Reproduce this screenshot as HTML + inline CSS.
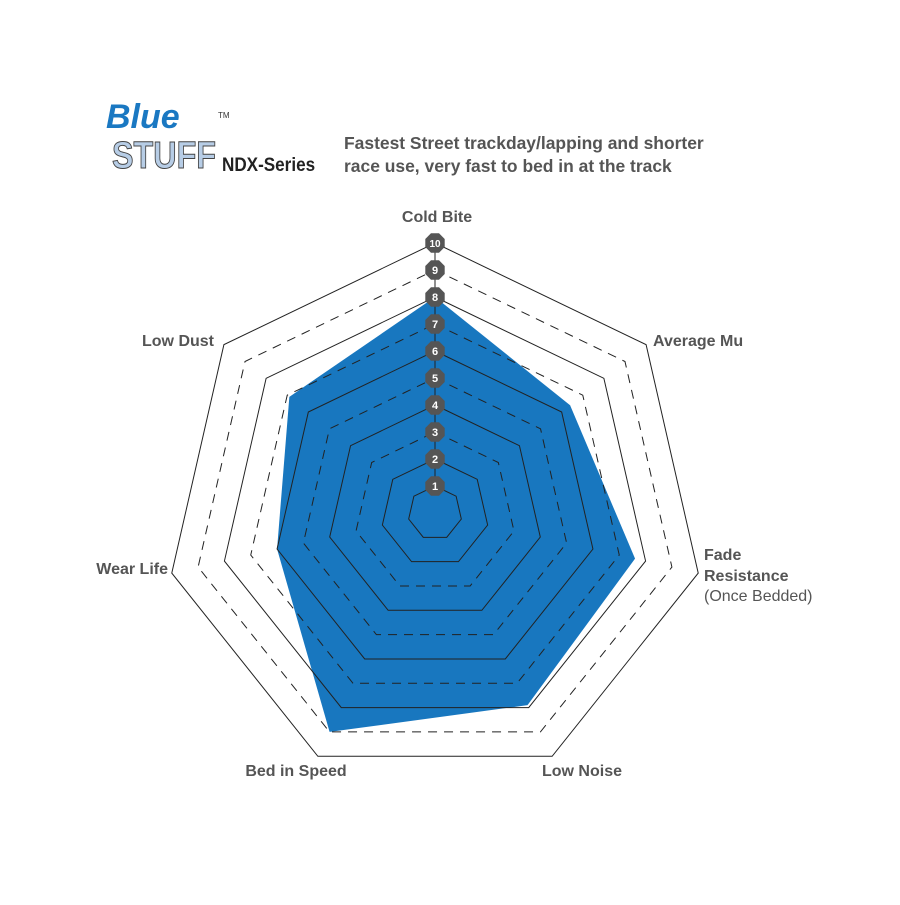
<!DOCTYPE html>
<html><head><style>body{margin:0;background:#fff}</style></head><body>
<svg width="900" height="900" xmlns="http://www.w3.org/2000/svg" font-family="Liberation Sans, sans-serif">
<rect width="900" height="900" fill="#fff"/>
<text x="106" y="128" font-size="34" font-weight="bold" font-style="italic" fill="#1a78c2">Blue</text>
<text x="0" y="168" font-size="38" font-weight="bold" fill="#b7cde6" stroke="#444" stroke-width="1" transform="translate(112,0) scale(0.85,1)">STUFF</text>
<text x="218" y="118" font-size="8" fill="#333">TM</text>
<text x="0" y="171" font-size="19" font-weight="bold" fill="#222" transform="translate(222,0) scale(0.9,1)">NDX-Series</text>
<g transform="translate(344,0) scale(0.97,1)">
<text x="0" y="149" font-size="18" font-weight="bold" fill="#555">Fastest Street trackday/lapping and shorter</text>
<text x="0" y="172" font-size="18" font-weight="bold" fill="#555">race use, very fast to bed in at the track</text>
</g>
<g id="g"></g>
<g font-size="16" font-weight="bold" fill="#555">
<text x="437" y="222" text-anchor="middle">Cold Bite</text>
<text x="653" y="346">Average Mu</text>
<text x="704" y="560">Fade</text>
<text x="704" y="581">Resistance</text>
<text x="704" y="601" font-weight="normal">(Once Bedded)</text>
<text x="582" y="776" text-anchor="middle">Low Noise</text>
<text x="296" y="776" text-anchor="middle">Bed in Speed</text>
<text x="168" y="574" text-anchor="end">Wear Life</text>
<text x="214" y="346" text-anchor="end">Low Dust</text>
</g>
</svg>
<script>
const cx=435,cy=513,u=27,ns="http://www.w3.org/2000/svg",g=document.getElementById('g');
function pt(k,r){const a=(-90+360/7*k)*Math.PI/180;return [cx+r*u*Math.cos(a),cy+r*u*Math.sin(a)];}
function el(t,a){const e=document.createElementNS(ns,t);for(const k in a)e.setAttribute(k,a[k]);g.appendChild(e);return e;}
const d=[8,6.4,7.6,7.9,9,6,6.9];
el('polygon',{points:d.map((r,k)=>pt(k,r).join(',')).join(' '),fill:'#1877bf'});
for(let r=1;r<=10;r++){
 const p=[0,1,2,3,4,5,6].map(k=>pt(k,r).join(',')).join(' ');
 el('polygon',{points:p,fill:'none',stroke:'#222','stroke-width':1,'stroke-dasharray':(r%2==1&&r>2)?'9,7':'none'});
}
el('line',{x1:cx,y1:cy-27,x2:cx,y2:cy-270,stroke:'#222','stroke-width':1});
for(let r=1;r<=10;r++){
 const y=cy-r*u,R=10.5,pts=[];
 for(let i=0;i<8;i++){const a=(22.5+45*i)*Math.PI/180;pts.push((cx+R*Math.cos(a))+','+(y+R*Math.sin(a)));}
 el('polygon',{points:pts.join(' '),fill:'#555'});
 const t=el('text',{x:cx,y:y+4,'text-anchor':'middle','font-size':r==10?10:11,'font-weight':'bold',fill:'#fff'});t.textContent=r;
}
</script>
</body></html>
